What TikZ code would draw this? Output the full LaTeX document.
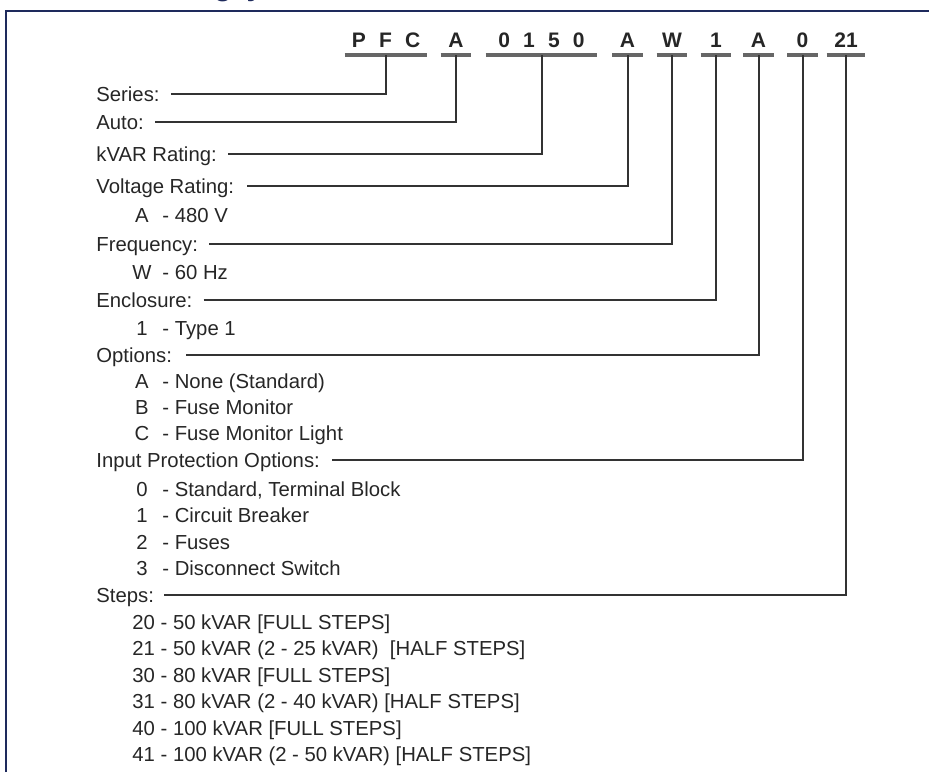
\documentclass[tikz,border=0pt]{standalone}
\usepackage{fontspec}
\setmainfont{Liberation Sans}
\definecolor{framenavy}{RGB}{30,42,92}
\definecolor{inkgray}{RGB}{38,38,38}
\newcommand{\codegap}{\hspace{6.6pt}}

\begin{document}
\begin{tikzpicture}[
    x=0.5pt, y=-0.5pt,
    every node/.style={font=\fontsize{10.15}{12}\selectfont, text=inkgray},
    field/.style={anchor=west, inner sep=0pt, text height=7.3pt, text depth=0pt},
    key/.style={inner sep=0pt, text height=7.3pt, text depth=0pt},
    code/.style={anchor=south, font=\fontsize{10.5}{12}\selectfont\bfseries, inner xsep=0pt, inner ysep=3.5pt, text height=7.5pt, text depth=0pt, minimum width=15pt},
    bar/.style={line width=1.6pt, black!60},
    lead/.style={line width=1pt, black!80},
    frame/.style={line width=1.3pt, framenavy},
    titlefrag/.style={anchor=base, inner sep=0pt, text=framenavy, font=\fontsize{15}{18}\selectfont\bfseries}
]
\useasboundingbox (0,0) rectangle (929,772);

% cut-off heading and frame
\begin{scope}
\clip (0,0) rectangle (929,9);
\node[titlefrag] (headg) at (223,-4.5) {g};
\node[titlefrag] (heady) at (255,-4.5) {y};
\end{scope}
\draw[frame] (6,772) -- (6,11) -- (929,11);

% catalogue code
\node[code, minimum width=41pt] (cpfc) at (386,55) {P\codegap F\codegap C};
\node[code] (cauto) at (456,55) {A};
\node[code, minimum width=55.5pt] (ckvar) at (541.5,55) {0\codegap 1\codegap 5\codegap 0};
\node[code] (cvolt) at (627.5,55) {A};
\node[code] (cfreq) at (672,55) {W};
\node[code] (cencl) at (716,55) {1};
\node[code] (copts) at (758.5,55) {A};
\node[code] (cprot) at (802.5,55) {0};
\node[code, minimum width=19pt] (csteps) at (846,55) {21};
\foreach \c in {cpfc,cauto,ckvar,cvolt,cfreq,cencl,copts,cprot,csteps}
    \draw[bar] (\c.south west) -- (\c.south east);

% fields and choices
\node[field] (series) at (96,94) {Series:};
\node[field] (auto) at (96,122) {Auto:};
\node[field] (kvar) at (96,154) {kVAR Rating:};
\node[field] (volt) at (96,186) {Voltage Rating:};
\node[key] (voltA) at (142,215) {A};
\node[field] (voltAt) at (162,215) {- 480 V};
\node[field] (freq) at (96,244) {Frequency:};
\node[key] (freqW) at (142,272) {W};
\node[field] (freqWt) at (162,272) {- 60 Hz};
\node[field] (encl) at (96,300) {Enclosure:};
\node[key] (encl1) at (142,328) {1};
\node[field] (encl1t) at (162,328) {- Type 1};
\node[field] (opts) at (96,355) {Options:};
\node[key] (optsA) at (142,381) {A};
\node[field] (optsAt) at (162,381) {- None (Standard)};
\node[key] (optsB) at (142,407) {B};
\node[field] (optsBt) at (162,407) {- Fuse Monitor};
\node[key] (optsC) at (142,433) {C};
\node[field] (optsCt) at (162,433) {- Fuse Monitor Light};
\node[field] (prot) at (96,460) {Input Protection Options:};
\node[key] (prot0) at (142,489) {0};
\node[field] (prot0t) at (162,489) {- Standard, Terminal Block};
\node[key] (prot1) at (142,515) {1};
\node[field] (prot1t) at (162,515) {- Circuit Breaker};
\node[key] (prot2) at (142,542) {2};
\node[field] (prot2t) at (162,542) {- Fuses};
\node[key] (prot3) at (142,568) {3};
\node[field] (prot3t) at (162,568) {- Disconnect Switch};
\node[field] (steps) at (96,595) {Steps:};
\foreach \y/\t [count=\i] in {622/{20 - 50 kVAR [FULL STEPS]},
        648/{21 - 50 kVAR (2 - 25 kVAR)\ \ [HALF STEPS]},
        675/{30 - 80 kVAR [FULL STEPS]},
        701/{31 - 80 kVAR (2 - 40 kVAR) [HALF STEPS]},
        728/{40 - 100 kVAR [FULL STEPS]},
        754/{41 - 100 kVAR (2 - 50 kVAR) [HALF STEPS]}}
    \node[field] (step\i) at (132,\y) {\t};

% leader lines
\draw[lead] ([xshift=5.5pt]series.east) -| (cpfc.south);
\draw[lead] ([xshift=5.5pt]auto.east) -| (cauto.south);
\draw[lead] ([xshift=5.5pt]kvar.east) -| (ckvar.south);
\draw[lead] ([xshift=6.5pt]volt.east) -| (cvolt.south);
\draw[lead] ([xshift=5.5pt]freq.east) -| (cfreq.south);
\draw[lead] ([xshift=5.5pt]encl.east) -| (cencl.south);
\draw[lead] ([xshift=7pt]opts.east) -| (copts.south);
\draw[lead] ([xshift=6pt]prot.east) -| (cprot.south);
\draw[lead] ([xshift=5pt]steps.east) -| (csteps.south);
\end{tikzpicture}
\end{document}
